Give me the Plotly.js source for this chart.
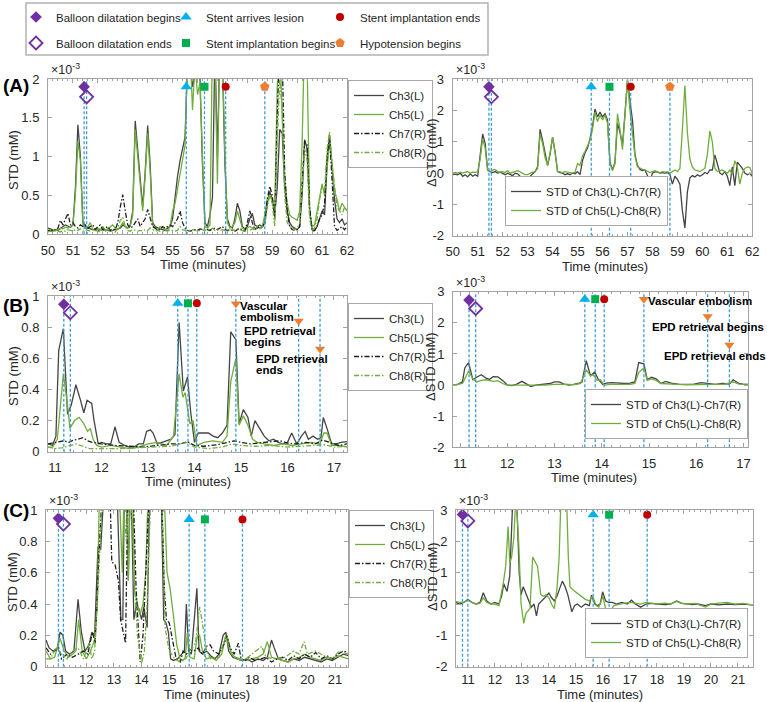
<!DOCTYPE html>
<html>
<head>
<meta charset="utf-8">
<script src="https://cdn.plot.ly/plotly-3.0.1.min.js"></script>
<style>
  html, body { margin: 0; padding: 0; background: #ffffff; }
  #chart { width: 767px; height: 702px; }
</style>
</head>
<body>
<div id="chart"></div>
<script>
// ---------- Panel A: 50-62 min, sampled every 0.1 min (values in 1e-3 mM) ----------
const tA = Array.from({length: 121}, (_, i) => +(50 + i * 0.1).toFixed(1));
const A_ch3 = [0.08,0.07,0.05,0.06,0.05,0.08,0.10,0.12,0.10,0.09,
  0.12,0.60,1.41,1.00,0.15,0.10,0.08,0.07,0.06,0.07,
  0.05,0.06,0.05,0.06,0.05,0.04,0.05,0.06,0.07,0.08,
  0.12,0.10,0.08,0.12,0.30,1.46,1.10,0.70,0.35,0.80,
  1.40,0.90,0.15,0.10,0.08,0.07,0.06,0.05,0.08,0.10,
  0.20,0.50,0.75,0.95,1.10,1.25,2.20,2.30,1.90,2.10,
  2.20,2.00,0.90,0.15,0.10,0.25,0.47,2.40,1.00,2.50,
  2.20,0.90,0.20,0.10,0.08,0.20,0.40,0.30,0.10,0.07,
  0.10,0.20,0.27,0.12,0.10,0.12,0.10,0.15,0.40,0.55,
  0.45,0.25,0.60,1.35,1.30,0.60,0.30,0.15,0.10,0.08,
  0.06,0.10,0.50,1.22,1.10,0.30,0.06,0.05,0.10,0.20,
  0.30,0.25,0.90,1.28,0.80,0.45,0.20,0.15,0.20,0.12,0.15];
const A_ch5 = [0.05,0.06,0.04,0.05,0.06,0.08,0.07,0.09,0.08,0.10,
  0.12,0.50,1.20,0.95,0.12,0.08,0.10,0.15,0.06,0.05,
  0.08,0.06,0.10,0.05,0.07,0.10,0.12,0.08,0.06,0.10,
  0.15,0.10,0.08,0.10,0.25,1.35,1.00,0.60,0.30,0.75,
  1.30,0.80,0.12,0.08,0.06,0.10,0.08,0.06,0.05,0.10,
  0.30,0.40,0.60,0.80,1.00,1.15,2.30,2.40,1.60,2.20,
  1.80,1.95,1.00,0.10,0.08,0.12,2.50,2.30,0.65,2.60,
  2.40,1.00,0.15,0.08,0.10,0.15,0.30,0.20,0.08,0.06,
  0.08,0.10,0.08,0.07,0.10,0.08,0.10,0.25,0.45,0.50,
  0.45,0.30,1.90,2.50,1.50,0.70,0.40,0.25,0.22,0.20,
  0.18,0.30,1.20,2.60,2.20,0.30,0.10,0.12,0.30,0.50,
  0.65,0.50,0.90,1.20,0.90,0.55,0.45,0.30,0.40,0.35,0.30];
const A_ch7 = [0.05,0.04,0.06,0.05,0.08,0.18,0.12,0.20,0.27,0.12,
  0.15,0.10,0.08,0.12,0.10,0.12,0.08,0.10,0.12,0.06,
  0.10,0.12,0.06,0.08,0.10,0.05,0.07,0.06,0.15,0.35,
  0.51,0.30,0.12,0.08,0.10,0.15,0.20,0.10,0.15,0.20,
  0.32,0.20,0.10,0.08,0.05,0.06,0.10,0.08,0.10,0.12,
  0.10,0.15,0.20,0.30,0.15,0.08,0.05,0.04,0.05,0.06,
  0.05,0.07,0.06,0.05,0.06,0.05,0.07,0.08,0.06,0.08,
  0.10,0.06,0.05,0.06,0.05,0.04,0.06,0.08,0.05,0.04,
  0.15,0.30,0.15,0.06,0.08,0.10,0.08,0.15,0.45,0.62,
  0.50,0.20,1.50,2.50,2.30,0.80,0.30,0.10,0.06,0.05,
  0.05,0.10,0.60,1.20,1.15,0.35,0.04,0.05,0.10,0.20,
  0.25,0.40,1.00,1.25,0.70,0.10,0.05,0.08,0.10,0.06,0.10];
const A_ch8 = [0.03,0.04,0.03,0.05,0.04,0.03,0.05,0.04,0.06,0.05,
  0.04,0.06,0.05,0.07,0.04,0.06,0.05,0.04,0.06,0.05,
  0.04,0.03,0.05,0.04,0.06,0.05,0.04,0.03,0.08,0.18,
  0.22,0.10,0.05,0.04,0.06,0.05,0.04,0.05,0.04,0.06,
  0.05,0.08,0.06,0.04,0.05,0.04,0.03,0.05,0.04,0.06,
  0.05,0.04,0.05,0.10,0.06,0.05,0.04,0.05,0.06,0.05,
  0.04,0.05,0.06,0.05,0.07,0.06,0.08,0.05,0.06,0.05,
  0.06,0.05,0.04,0.05,0.06,0.05,0.07,0.06,0.05,0.04,
  0.06,0.05,0.07,0.06,0.08,0.07,0.09,0.12,0.35,0.50,
  0.40,0.10,1.20,2.00,1.60,0.50,0.15,0.10,0.08,0.06,
  0.08,0.15,0.60,1.10,0.95,0.20,0.05,0.08,0.20,0.45,
  0.62,0.55,1.10,1.32,0.90,0.60,0.35,0.30,0.25,0.35,0.30];
const A_d37 = [-0.05,-0.03,-0.05,0.00,-0.10,-0.05,-0.12,-0.02,-0.10,-0.05,
  -0.10,0.50,1.25,0.95,0.10,0.05,0.02,0.05,0.00,0.03,
  -0.02,-0.05,0.00,-0.05,-0.08,0.00,-0.02,-0.10,-0.12,-0.25,
  -0.40,-0.10,-0.02,0.05,0.20,1.40,1.05,0.60,0.25,0.60,
  1.15,0.70,0.05,0.02,0.00,-0.05,-0.02,-0.05,0.00,-0.02,
  0.05,-0.05,0.40,0.65,0.80,1.10,1.50,2.05,1.80,1.95,
  1.80,1.90,1.70,0.35,0.10,0.35,1.60,1.30,0.90,1.90,
  3.00,2.30,1.70,0.60,0.25,0.12,0.08,0.10,-0.05,-0.25,
  0.00,0.05,0.03,0.00,0.02,0.00,0.02,-0.05,-0.35,-0.10,
  -0.20,-0.35,-1.20,-1.75,-0.60,-0.15,-0.08,-0.12,-0.05,-0.10,
  -0.05,0.02,-0.02,0.10,0.10,0.58,0.30,0.00,-0.05,0.05,
  -0.10,-0.40,0.20,-0.40,0.35,0.25,0.15,0.00,-0.05,0.00,-0.10];
const A_d58 = [0.00,0.02,0.00,0.03,0.00,0.02,0.05,0.00,0.03,0.02,
  0.05,0.45,1.10,0.80,0.08,0.05,0.10,0.12,0.05,0.03,
  0.05,0.02,0.08,0.00,0.02,0.06,0.08,0.04,0.00,-0.05,
  -0.05,0.00,0.03,0.05,0.15,1.25,0.95,0.50,0.25,0.65,
  1.15,0.65,0.06,0.04,0.02,0.05,0.04,0.01,0.00,0.03,
  0.30,0.25,0.55,0.70,0.90,1.05,1.40,1.95,1.65,1.85,
  1.70,1.85,1.60,0.30,0.08,0.30,1.90,1.40,0.75,2.00,
  2.95,2.00,1.30,0.55,0.20,0.15,0.12,0.10,0.05,0.02,
  0.05,0.08,0.04,0.02,0.05,0.03,0.05,0.00,0.05,0.10,
  0.05,0.15,1.40,2.80,1.30,0.45,0.20,0.10,0.08,0.05,
  0.10,0.15,0.60,1.35,1.00,0.15,0.05,0.08,0.10,0.05,
  0.00,0.10,-0.05,0.40,0.20,-0.35,0.00,0.15,0.20,0.18,0.00];

// ---------- Panel B: 11-17 min ----------
const B_ch3_t = [10.85,10.95,11.02,11.08,11.18,11.27,11.35,11.45,11.55,11.62,
  11.69,11.79,11.84,11.93,12.0,12.1,12.2,12.29,12.38,12.5,
  12.6,12.7,12.8,12.9,12.97,13.05,13.11,13.2,13.3,13.4,
  13.5,13.58,13.67,13.76,13.85,13.92,14.0,14.08,14.2,14.3,
  14.4,14.5,14.6,14.7,14.78,14.89,14.96,15.05,15.15,15.22,
  15.3,15.4,15.5,15.6,15.7,15.8,15.9,16.0,16.09,16.2,
  16.3,16.38,16.45,16.55,16.65,16.72,16.77,16.85,16.95,17.05,17.15,17.28];
const B_ch3 = [0.05,0.04,0.1,0.65,0.79,0.24,0.3,0.43,0.33,0.25,
  0.33,0.31,0.2,0.05,0.06,0.05,0.05,0.16,0.06,0.04,
  0.03,0.03,0.05,0.05,0.13,0.14,0.12,0.05,0.06,0.07,
  0.08,0.11,0.83,0.39,0.48,0.25,0.06,0.12,0.12,0.12,
  0.1,0.09,0.12,0.17,0.77,0.72,0.18,0.27,0.22,0.1,
  0.2,0.15,0.1,0.07,0.08,0.06,0.05,0.06,0.12,0.05,
  0.1,0.13,0.08,0.1,0.08,0.09,0.22,0.15,0.05,0.05,0.06,0.065];
const B_ch5_t = [10.85,10.95,11.05,11.1,11.18,11.27,11.32,11.42,11.52,11.62,
  11.7,11.76,11.82,11.9,12.0,12.2,12.4,12.6,12.8,13.0,
  13.2,13.4,13.55,13.67,13.75,13.8,13.9,13.97,14.05,14.2,
  14.4,14.6,14.7,14.78,14.89,14.96,15.05,15.15,15.25,15.35,
  15.5,15.7,15.9,16.1,16.3,16.5,16.7,16.78,16.85,16.95,17.1,17.28];
const B_ch5 = [0.03,0.03,0.08,0.25,0.5,0.3,0.15,0.2,0.22,0.18,
  0.13,0.15,0.08,0.04,0.03,0.04,0.03,0.02,0.03,0.05,
  0.06,0.04,0.1,0.5,0.35,0.38,0.18,0.2,0.04,0.06,
  0.07,0.06,0.1,0.45,0.6,0.17,0.23,0.17,0.08,0.06,
  0.05,0.04,0.05,0.04,0.05,0.06,0.05,0.12,0.12,0.04,0.04,0.03];
const B_ch7_t = [10.85,11.0,11.1,11.2,11.3,11.4,11.5,11.6,11.7,11.8,
  12.0,12.3,12.6,12.9,13.2,13.5,13.7,13.85,14.0,14.2,
  14.5,14.7,14.85,15.0,15.2,15.5,15.7,15.85,16.0,16.2,
  16.4,16.6,16.75,16.9,17.1,17.28];
const B_ch7 = [0.05,0.06,0.065,0.07,0.06,0.075,0.08,0.09,0.07,0.06,
  0.05,0.04,0.035,0.03,0.04,0.05,0.05,0.065,0.04,0.035,
  0.045,0.06,0.07,0.06,0.05,0.06,0.065,0.07,0.055,0.05,
  0.06,0.05,0.075,0.06,0.04,0.05];
const B_ch8_t = [10.85,11.0,11.15,11.3,11.45,11.6,11.75,12.0,12.4,12.8,
  13.2,13.5,13.7,13.85,14.0,14.3,14.6,14.8,15.0,15.3,
  15.6,16.0,16.3,16.6,16.8,17.0,17.28];
const B_ch8 = [0.03,0.02,0.025,0.04,0.05,0.035,0.02,0.02,0.02,0.025,
  0.03,0.035,0.05,0.06,0.03,0.02,0.03,0.05,0.04,0.035,
  0.04,0.03,0.035,0.04,0.045,0.03,0.035];
const B_d37_t = [10.85,10.95,11.05,11.1,11.18,11.27,11.35,11.45,11.55,11.62,
  11.7,11.8,11.9,12.0,12.1,12.2,12.31,12.4,12.5,12.6,
  12.7,12.8,12.9,13.0,13.1,13.2,13.3,13.4,13.5,13.58,
  13.67,13.76,13.85,13.92,14.02,14.1,14.2,14.3,14.4,14.5,
  14.6,14.7,14.78,14.89,14.96,15.05,15.15,15.25,15.35,15.5,
  15.65,15.8,15.95,16.1,16.25,16.4,16.55,16.7,16.78,16.9,17.0,17.1];
const B_d37 = [0.0,0.02,0.1,0.55,0.72,0.17,0.25,0.33,0.22,0.18,
  0.27,0.26,0.15,0.0,-0.02,0.03,0.12,0.05,-0.05,0.0,
  0.02,0.03,0.05,0.1,0.1,0.03,0.0,0.02,0.05,0.1,
  0.78,0.3,0.42,0.2,0.02,0.06,0.08,0.07,0.05,0.05,
  0.06,0.1,0.72,0.68,0.18,0.25,0.2,0.05,0.12,0.05,
  0.02,0.02,0.03,0.08,0.05,0.02,0.05,0.03,0.17,0.05,0.02,0.02];
const B_d58_t = [10.85,10.95,11.05,11.1,11.18,11.27,11.35,11.45,11.55,11.7,
  11.8,11.9,12.0,12.2,12.4,12.6,12.8,13.0,13.2,13.4,
  13.55,13.67,13.76,13.82,13.9,13.97,14.05,14.2,14.4,14.6,
  14.7,14.78,14.89,14.96,15.05,15.15,15.25,15.4,15.6,15.8,
  16.0,16.2,16.4,16.6,16.78,16.9,17.1];
const B_d58 = [0.0,0.02,0.05,0.2,0.45,0.2,0.1,0.15,0.17,0.12,
  0.14,0.05,0.0,0.0,0.0,-0.02,0.0,0.02,0.03,0.01,
  0.05,0.48,0.3,0.33,0.15,0.17,0.0,0.02,0.03,0.02,
  0.05,0.4,0.55,0.15,0.2,0.15,0.05,0.03,0.02,0.01,
  0.02,0.01,0.02,0.03,0.1,0.03,0.02];

// ---------- Panel C: 11-21 min ----------
const C_ch3_t = [10.54,10.65,10.8,10.95,11.05,11.15,11.25,11.4,11.55,11.7,
  11.82,11.95,12.1,12.2,12.3,12.42,12.52,12.62,12.75,12.9,
  13.0,13.1,13.16,13.25,13.32,13.38,13.45,13.52,13.58,13.65,
  13.72,13.8,13.9,14.0,14.08,14.2,14.3,14.4,14.55,14.7,
  14.8,14.88,14.97,15.05,15.15,15.3,15.45,15.55,15.62,15.7,
  15.8,15.9,16.0,16.08,16.2,16.35,16.5,16.65,16.8,16.95,
  17.05,17.15,17.3,17.45,17.6,17.8,18.0,18.2,18.4,18.55,
  18.7,18.8,18.95,19.1,19.3,19.5,19.7,19.9,20.1,20.3,
  20.5,20.7,20.9,21.1,21.3,21.48];
const C_ch3 = [0.17,0.12,0.1,0.12,0.22,0.2,0.1,0.08,0.1,0.43,
  0.22,0.1,0.14,0.22,0.2,0.76,0.75,1.2,1.5,1.3,
  1.1,1.2,0.85,0.3,0.3,1.2,1.1,0.55,1.2,0.9,
  0.3,0.38,0.37,0.3,0.38,0.25,1.2,1.5,1.4,1.2,
  0.3,0.28,0.22,0.05,0.04,0.05,0.08,0.1,0.4,0.1,
  0.08,0.3,0.5,0.1,0.08,0.1,0.07,0.05,0.08,0.2,
  0.22,0.1,0.06,0.05,0.04,0.05,0.03,0.05,0.04,0.06,
  0.17,0.12,0.05,0.04,0.03,0.05,0.04,0.06,0.05,0.04,
  0.03,0.05,0.04,0.06,0.08,0.07];
const C_ch5_t = [10.54,10.7,10.85,11.05,11.2,11.35,11.5,11.62,11.72,11.85,
  12.0,12.15,12.3,12.4,12.47,12.6,12.75,12.9,13.05,13.2,
  13.3,13.37,13.45,13.52,13.6,13.68,13.75,13.85,13.94,14.05,
  14.15,14.25,14.4,14.6,14.8,14.92,15.03,15.15,15.27,15.39,
  15.5,15.58,15.66,15.75,15.9,16.02,16.1,16.2,16.35,16.5,
  16.7,16.9,17.05,17.12,17.25,17.4,17.6,17.8,18.0,18.2,
  18.4,18.55,18.7,18.9,19.1,19.3,19.5,19.7,19.9,20.1,
  20.3,20.5,20.7,20.9,21.1,21.3,21.48];
const C_ch5 = [0.1,0.05,0.06,0.18,0.1,0.06,0.08,0.1,0.3,0.1,
  0.05,0.1,0.17,0.4,1.1,1.4,1.5,1.3,1.2,1.1,
  0.6,1.2,1.1,0.55,1.2,1.1,0.48,0.4,0.33,0.4,
  0.6,1.2,1.5,1.4,1.2,0.6,0.5,0.33,0.14,0.05,
  0.04,0.06,0.22,0.06,0.05,0.2,0.2,0.1,0.05,0.06,
  0.04,0.08,0.2,0.18,0.08,0.06,0.05,0.04,0.05,0.06,
  0.08,0.16,0.06,0.05,0.04,0.03,0.05,0.06,0.08,0.06,
  0.05,0.04,0.06,0.05,0.07,0.06,0.05];
const C_ch7_t = [10.54,10.7,10.85,11.0,11.1,11.3,11.5,11.7,11.9,12.05,
  12.22,12.32,12.45,12.6,12.8,12.92,13.04,13.16,13.24,13.42,
  13.5,13.6,13.7,13.8,13.95,14.05,14.15,14.3,14.5,14.7,
  14.82,14.9,15.0,15.1,15.25,15.4,15.5,15.62,15.75,15.9,
  16.05,16.2,16.35,16.48,16.6,16.8,17.0,17.08,17.2,17.35,
  17.5,17.6,17.75,17.9,18.1,18.3,18.5,18.7,18.9,19.1,
  19.3,19.5,19.7,19.9,20.1,20.3,20.5,20.7,20.9,21.1,21.3,21.48];
const C_ch7 = [0.12,0.08,0.1,0.12,0.05,0.08,0.06,0.08,0.1,0.08,
  0.22,0.15,0.7,1.2,1.5,0.67,0.65,0.55,0.3,0.15,
  1.1,1.3,1.1,0.5,0.03,0.2,0.6,1.2,1.4,1.3,
  0.5,0.3,0.28,0.18,0.05,0.03,0.1,0.08,0.11,0.1,
  0.12,0.08,0.13,0.14,0.1,0.08,0.15,0.2,0.12,0.08,
  0.15,0.05,0.04,0.06,0.04,0.05,0.06,0.03,0.05,0.06,
  0.04,0.07,0.05,0.08,0.06,0.09,0.05,0.07,0.05,0.08,0.1,0.09];
const C_ch8_t = [10.54,10.7,10.9,11.1,11.3,11.5,11.7,11.9,12.1,12.2,
  12.3,12.45,12.6,12.8,13.0,13.2,13.3,13.45,13.6,13.75,
  13.85,14.0,14.1,14.2,14.35,14.5,14.7,14.85,15.0,15.2,
  15.4,15.6,15.75,15.95,16.1,16.2,16.35,16.5,16.8,17.05,
  17.2,17.4,17.7,18.0,18.35,18.5,18.8,19.2,19.5,19.7,
  19.88,20.0,20.3,20.6,20.9,21.15,21.48];
const C_ch8 = [0.05,0.05,0.12,0.08,0.05,0.1,0.12,0.05,0.15,0.05,
  0.1,0.6,1.2,1.5,1.3,1.2,1.1,0.8,1.2,0.5,
  0.2,0.02,0.1,0.4,1.2,1.5,1.3,0.25,0.1,0.05,
  0.03,0.05,0.1,0.15,0.38,0.28,0.1,0.05,0.06,0.2,
  0.1,0.05,0.04,0.08,0.13,0.06,0.05,0.06,0.1,0.08,
  0.16,0.08,0.1,0.07,0.05,0.1,0.08];
const C_d37_t = [10.56,10.7,10.85,11.0,11.15,11.3,11.45,11.57,11.7,11.85,
  12.0,12.15,12.25,12.33,12.45,12.55,12.67,12.8,12.9,12.97,
  13.05,13.15,13.25,13.35,13.45,13.54,13.62,13.75,13.85,14.0,
  14.1,14.2,14.3,14.4,14.5,14.6,14.7,14.85,14.95,15.05,
  15.2,15.35,15.5,15.58,15.7,15.8,15.9,15.99,16.1,16.2,
  16.35,16.5,16.7,16.9,17.06,17.2,17.4,17.6,17.8,18.0,
  18.3,18.5,18.73,18.9,19.1,19.3,19.5,19.8,20.0,20.3,
  20.6,20.9,21.2,21.57];
const C_d37 = [0.05,0.0,0.05,0.15,0.05,0.0,0.05,0.36,0.1,0.0,
  0.05,0.0,0.25,0.65,0.4,0.9,3.5,3.5,1.0,0.3,
  0.55,0.35,0.15,-0.1,0.0,-0.38,0.0,0.1,0.2,0.35,
  0.2,0.1,0.25,0.5,0.73,0.55,0.3,-0.25,-0.05,0.0,
  -0.1,0.0,-0.05,0.28,0.0,-0.05,0.0,0.39,0.1,0.05,
  0.05,0.0,0.05,0.0,0.12,0.0,-0.1,0.0,0.02,0.0,
  -0.02,0.0,0.1,0.03,0.0,-0.02,0.0,-0.05,0.0,-0.03,
  0.0,-0.02,0.0,-0.03];
const C_d58_t = [10.56,10.7,10.85,11.0,11.15,11.3,11.45,11.57,11.7,11.85,
  12.0,12.15,12.3,12.4,12.49,12.55,12.62,12.7,12.78,12.88,
  12.97,13.07,13.15,13.3,13.4,13.5,13.58,13.7,13.8,13.9,
  14.0,14.1,14.2,14.3,14.38,14.45,14.55,14.65,14.72,14.78,
  14.9,15.05,15.2,15.35,15.5,15.62,15.75,15.85,16.0,16.1,
  16.2,16.3,16.4,16.6,16.8,17.0,17.2,17.4,17.6,17.8,
  18.0,18.3,18.5,18.73,18.9,19.1,19.4,19.8,20.0,20.3,
  20.6,20.9,21.2,21.57];
const C_d58 = [0.08,0.05,0.05,0.12,0.05,0.0,0.02,0.2,0.05,0.0,
  0.0,-0.05,0.6,1.2,2.47,1.3,1.5,2.1,3.5,2.0,
  0.0,-0.62,-0.3,-0.15,1.5,1.3,1.2,0.3,0.25,0.3,
  0.2,0.0,-0.15,0.5,1.5,3.5,3.5,3.5,1.5,0.55,
  0.45,0.35,0.25,0.15,0.1,0.25,-0.05,-0.1,0.25,-0.15,
  -0.2,-0.2,-0.05,0.0,0.03,0.05,0.02,0.0,0.05,0.02,
  0.0,0.03,0.0,0.08,0.02,0.0,0.02,-0.1,0.0,0.03,
  0.05,0.0,0.02,-0.05];

// ---------- Procedure events ----------
const evNames = {
  balloonBegin: 'Balloon dilatation begins',
  balloonEnd: 'Balloon dilatation ends',
  stentArrive: 'Stent arrives lesion',
  implBegin: 'Stent implantation begins',
  implEnd: 'Stent implantation ends',
  hypo: 'Hypotension begins'
};
const evKindsA = ['balloonBegin','balloonEnd','stentArrive','implBegin','implEnd','hypo'];
const evTimeA = [51.45, 51.55, 55.55, 56.28, 57.13, 58.7];
const evYA_std = [1.9, 1.77, 1.9, 1.9, 1.9, 1.9];
const evYA_diff = [2.76, 2.44, 2.76, 2.76, 2.76, 2.76];
const evKindsB = ['balloonBegin','balloonEnd','stentArrive','implBegin','implEnd','embol','embol','embol'];
const evTimeB = [11.19, 11.33, 13.64, 13.86, 14.05, 14.89, 16.24, 16.7];
const evYB_std = [0.947, 0.893, 0.953, 0.953, 0.953, 0.95, 0.84, 0.66];
const evYB_diff = [2.73, 2.46, 2.76, 2.76, 2.76, 2.76, 2.2, 1.29];
const evKindsC = ['balloonBegin','balloonEnd','stentArrive','implBegin','implEnd'];
const evTimeC_std = [10.99, 11.17, 15.72, 16.29, 17.65];
const evTimeC_diff = [10.8, 11.0, 15.64, 16.23, 17.64];
const evYC_std = [0.947, 0.91, 0.94, 0.94, 0.94];
const evYC_diff = [2.86, 2.65, 2.85, 2.85, 2.85];

// axis extents
const xRangeA = [50, 62], xRangeB_std = [10.85, 17.28], xRangeB_diff = [10.85, 17.1];
const xRangeC_std = [10.54, 21.48], xRangeC_diff = [10.56, 21.57];
const yRangeA_std = [0, 2], yRangeBC_std = [0, 1], yRange_diff = [-2, 3];
const diffTicks = [-2, -1, 0, 1, 2, 3];
const diffTickText = ['-2', '-1', '0', '1', '2', '3'];

// ---------- styling ----------
const W = 767, H = 702;
const AXC = '#a3a3a3';
const TXT = '#262626';
const GREEN = '#70ad3c';
const GRAY = '#444444';
const BLACK = '#1e1e1e';
const EVT_LINE = '#3d9bd8';
const SANS = 'Liberation Sans, Arial, Helvetica, sans-serif';
const DASHDOT = '5px,2px,1.5px,2px';

const markerStyle = {
  balloonBegin: {symbol: 'diamond', color: '#7030A0', size: 9, line: {width: 0}},
  balloonEnd: {symbol: 'diamond-open', color: '#7030A0', size: 10, line: {width: 1.8, color: '#7030A0'}},
  stentArrive: {symbol: 'triangle-up', color: '#00B0F0', size: 10, line: {width: 0}},
  implBegin: {symbol: 'square', color: '#00B050', size: 8, line: {width: 0}},
  implEnd: {symbol: 'circle', color: '#C00000', size: 8, line: {width: 0}},
  hypo: {symbol: 'pentagon', color: '#ED7D31', size: 10, line: {width: 0}},
  embol: {symbol: 'triangle-down', color: '#ED7D31', size: 9, line: {width: 0}}
};
// one single-entry legend per event key, laid out as a 3 x 2 grid
const eventLegendId = {
  balloonBegin: 'legend7', stentArrive: 'legend8', implEnd: 'legend9',
  balloonEnd: 'legend10', implBegin: 'legend11', hypo: 'legend12'
};

const hx = (a, b) => [a / W, b / W];
const vy = (top, bottom) => [1 - bottom / H, 1 - top / H];

const traces = [];

function series(x, y, color, dash, name, xa, ya, legend) {
  traces.push({
    type: 'scatter', mode: 'lines', x: x, y: y, name: name,
    xaxis: xa, yaxis: ya, legend: legend, showlegend: !!name,
    line: {color: color, width: 1.3, dash: dash},
    hoverinfo: 'skip'
  });
}

function events(times, ys, kinds, yRange, xa, ya, withLegend) {
  times.forEach((t) => {
    traces.push({
      type: 'scatter', mode: 'lines', x: [t, t], y: yRange,
      xaxis: xa, yaxis: ya, showlegend: false, hoverinfo: 'skip',
      line: {color: EVT_LINE, width: 1.3, dash: '3px,2px'}
    });
  });
  times.forEach((t, i) => {
    const k = kinds[i];
    const tr = {
      type: 'scatter', mode: 'markers', x: [t], y: [ys[i]],
      xaxis: xa, yaxis: ya, hoverinfo: 'skip', showlegend: false,
      marker: markerStyle[k], cliponaxis: false
    };
    if (withLegend && evNames[k]) {
      tr.showlegend = true;
      tr.name = evNames[k];
      tr.legend = eventLegendId[k];
    }
    traces.push(tr);
  });
}

// Panel A
series(tA, A_ch3, GRAY, 'solid', 'Ch3(L)', 'x', 'y', 'legend');
series(tA, A_ch5, GREEN, 'solid', 'Ch5(L)', 'x', 'y', 'legend');
series(tA, A_ch7, BLACK, DASHDOT, 'Ch7(R)', 'x', 'y', 'legend');
series(tA, A_ch8, GREEN, DASHDOT, 'Ch8(R)', 'x', 'y', 'legend');
events(evTimeA, evYA_std, evKindsA, yRangeA_std, 'x', 'y', true);
series(tA, A_d37, GRAY, 'solid', 'STD of Ch3(L)-Ch7(R)', 'x2', 'y2', 'legend2');
series(tA, A_d58, GREEN, 'solid', 'STD of Ch5(L)-Ch8(R)', 'x2', 'y2', 'legend2');
events(evTimeA, evYA_diff, evKindsA, yRange_diff, 'x2', 'y2', false);

// Panel B
series(B_ch3_t, B_ch3, GRAY, 'solid', 'Ch3(L)', 'x3', 'y3', 'legend3');
series(B_ch5_t, B_ch5, GREEN, 'solid', 'Ch5(L)', 'x3', 'y3', 'legend3');
series(B_ch7_t, B_ch7, BLACK, DASHDOT, 'Ch7(R)', 'x3', 'y3', 'legend3');
series(B_ch8_t, B_ch8, GREEN, DASHDOT, 'Ch8(R)', 'x3', 'y3', 'legend3');
events(evTimeB, evYB_std, evKindsB, yRangeBC_std, 'x3', 'y3', false);
series(B_d37_t, B_d37, GRAY, 'solid', 'STD of Ch3(L)-Ch7(R)', 'x4', 'y4', 'legend4');
series(B_d58_t, B_d58, GREEN, 'solid', 'STD of Ch5(L)-Ch8(R)', 'x4', 'y4', 'legend4');
events(evTimeB, evYB_diff, evKindsB, yRange_diff, 'x4', 'y4', false);

// Panel C
series(C_ch3_t, C_ch3, GRAY, 'solid', 'Ch3(L)', 'x5', 'y5', 'legend5');
series(C_ch5_t, C_ch5, GREEN, 'solid', 'Ch5(L)', 'x5', 'y5', 'legend5');
series(C_ch7_t, C_ch7, BLACK, DASHDOT, 'Ch7(R)', 'x5', 'y5', 'legend5');
series(C_ch8_t, C_ch8, GREEN, DASHDOT, 'Ch8(R)', 'x5', 'y5', 'legend5');
events(evTimeC_std, evYC_std, evKindsC, yRangeBC_std, 'x5', 'y5', false);
series(C_d37_t, C_d37, GRAY, 'solid', 'STD of Ch3(L)-Ch7(R)', 'x6', 'y6', 'legend6');
series(C_d58_t, C_d58, GREEN, 'solid', 'STD of Ch5(L)-Ch8(R)', 'x6', 'y6', 'legend6');
events(evTimeC_diff, evYC_diff, evKindsC, yRange_diff, 'x6', 'y6', false);

// ---------- axes ----------
const tickFont = {family: SANS, size: 13, color: TXT};
function xAxis(domain, range, anchor, standoff) {
  return {
    domain: domain, range: range, anchor: anchor,
    showline: true, linecolor: AXC, linewidth: 1, mirror: 'ticks',
    ticks: 'inside', ticklen: 4, tickcolor: AXC, tickwidth: 1,
    dtick: 1, tick0: 0, showgrid: false, zeroline: false,
    tickfont: tickFont, ticklabelstandoff: standoff,
    minor: {ticks: 'inside', ticklen: 2, dtick: 0.2, tickcolor: AXC, showgrid: false}
  };
}
function yAxis(domain, range, anchor, extra) {
  return Object.assign({
    domain: domain, range: range, anchor: anchor,
    showline: true, linecolor: AXC, linewidth: 1, mirror: 'ticks',
    ticks: 'inside', ticklen: 4, tickcolor: AXC, tickwidth: 1,
    showgrid: false, zeroline: false,
    tickfont: tickFont, ticklabelstandoff: 5
  }, extra);
}
const diffExtra = {tickmode: 'array', tickvals: diffTicks, ticktext: diffTickText};

const dA1x = hx(48, 347), dA1y = vy(79, 234.3);
const dA2x = hx(452.7, 752.3), dA2y = vy(79.3, 235.7);
const dB1x = hx(48, 347), dB1y = vy(296, 451.7);
const dB2x = hx(453, 748.3), dB2y = vy(291.7, 447.3);
const dC1x = hx(46, 348.3), dC1y = vy(510, 666.7);
const dC2x = hx(456, 753.3), dC2y = vy(510, 666.7);

function stdLegend(xpx, ypx) {
  return {
    x: xpx / W, y: 1 - ypx / H, xanchor: 'left', yanchor: 'top',
    bgcolor: '#ffffff', bordercolor: '#a8a8a8', borderwidth: 1,
    font: {family: SANS, size: 11.5, color: TXT}, tracegroupgap: 0
  };
}
function diffLegend(xpx, ypx, xanchor) {
  return {
    x: xpx / W, y: 1 - ypx / H, xanchor: xanchor, yanchor: 'bottom',
    bgcolor: '#ffffff', bordercolor: '#a8a8a8', borderwidth: 1,
    font: {family: SANS, size: 11.5, color: TXT}, tracegroupgap: 0
  };
}
function eventLegend(xpx, ypx) {
  return {
    x: xpx / W, y: 1 - ypx / H, xanchor: 'left', yanchor: 'middle',
    bgcolor: 'rgba(0,0,0,0)', borderwidth: 0,
    font: {family: SANS, size: 11.5, color: TXT}
  };
}

// ---------- annotations ----------
const annotations = [];
function panelLabel(txt, ypx) {
  annotations.push({
    text: txt, xref: 'paper', yref: 'paper', x: 1 / W, y: 1 - ypx / H,
    xanchor: 'left', yanchor: 'middle', showarrow: false,
    font: {family: SANS, size: 19, color: '#000000'}
  });
}
panelLabel('<b>(A)</b>', 86);
panelLabel('<b>(B)</b>', 305);
panelLabel('<b>(C)</b>', 510);

function expLabel(xdom, ydom) {
  annotations.push({
    text: '×10<sup>-3</sup>', xref: 'paper', yref: 'paper',
    x: xdom[0] + 1 / W, y: ydom[1], xanchor: 'left', yanchor: 'bottom',
    showarrow: false, font: {family: SANS, size: 12.5, color: TXT}
  });
}
expLabel(dA1x, dA1y); expLabel(dA2x, dA2y);
expLabel(dB1x, dB1y); expLabel(dB2x, dB2y);
expLabel(dC1x, dC1y); expLabel(dC2x, dC2y);

// axis titles, placed beside each panel
function axisTitle(txt, xpx, ypx, vertical) {
  annotations.push({
    text: txt, xref: 'paper', yref: 'paper', x: xpx / W, y: 1 - ypx / H,
    xanchor: 'center', yanchor: 'middle', showarrow: false,
    textangle: vertical ? -90 : 0, borderpad: 0,
    font: {family: SANS, size: 13, color: TXT}
  });
}
axisTitle('Time (minutes)', 203, 265, false);
axisTitle('Time (minutes)', 605, 266, false);
axisTitle('Time (minutes)', 188, 481, false);
axisTitle('Time (minutes)', 594, 477, false);
axisTitle('Time (minutes)', 207, 694.5, false);
axisTitle('Time (minutes)', 600, 694.5, false);
axisTitle('STD (mM)', 13, 160, true);
axisTitle('ΔSTD (mM)', 431, 153, true);
axisTitle('STD (mM)', 13, 376, true);
axisTitle('ΔSTD (mM)', 431, 367, true);
axisTitle('STD (mM)', 12, 582, true);
axisTitle('ΔSTD (mM)', 432, 577, true);

function eventText(txt, xa, ya, x, y, dx, dy) {
  annotations.push({
    text: '<b>' + txt + '</b>', xref: xa, yref: ya, x: x, y: y,
    xanchor: 'left', yanchor: 'middle', xshift: dx, yshift: dy,
    showarrow: false, borderpad: 0,
    font: {family: SANS, size: 11.5, color: '#000000'}
  });
}
// left panel B (two-line labels)
eventText('Vascular', 'x3', 'y3', evTimeB[5], evYB_std[5], 3, -2);
eventText('embolism', 'x3', 'y3', evTimeB[5], evYB_std[5], 3, -13.5);
eventText('EPD retrieval', 'x3', 'y3', evTimeB[6], evYB_std[6], -56, -10);
eventText('begins', 'x3', 'y3', evTimeB[6], evYB_std[6], -56, -21.5);
eventText('EPD retrieval', 'x3', 'y3', evTimeB[7], evYB_std[7], -65, -10);
eventText('ends', 'x3', 'y3', evTimeB[7], evYB_std[7], -65, -21);
// right panel B
eventText('Vascular embolism', 'x4', 'y4', evTimeB[5], evYB_diff[5], 3, -2);
eventText('EPD retrieval begins', 'x4', 'y4', evTimeB[6], evYB_diff[6], -57, -10);
eventText('EPD retrieval ends', 'x4', 'y4', evTimeB[7], evYB_diff[7], -66, -11);

const layout = {
  width: W, height: H, autosize: false,
  margin: {l: 0, r: 0, t: 0, b: 0},
  paper_bgcolor: '#ffffff', plot_bgcolor: '#ffffff',
  font: {family: SANS, color: TXT},
  xaxis: xAxis(dA1x, xRangeA, 'y', 4),
  yaxis: yAxis(dA1y, yRangeA_std, 'x', {dtick: 0.5, tick0: 0}),
  xaxis2: xAxis(dA2x, xRangeA, 'y2', 4),
  yaxis2: yAxis(dA2y, yRange_diff, 'x2', diffExtra),
  xaxis3: xAxis(dB1x, xRangeB_std, 'y3', 4),
  yaxis3: yAxis(dB1y, yRangeBC_std, 'x3', {dtick: 0.2, tick0: 0}),
  xaxis4: xAxis(dB2x, xRangeB_diff, 'y4', 4),
  yaxis4: yAxis(dB2y, yRange_diff, 'x4', diffExtra),
  xaxis5: xAxis(dC1x, xRangeC_std, 'y5', 1),
  yaxis5: yAxis(dC1y, yRangeBC_std, 'x5', {dtick: 0.2, tick0: 0}),
  xaxis6: xAxis(dC2x, xRangeC_diff, 'y6', 1),
  yaxis6: yAxis(dC2y, yRange_diff, 'x6', diffExtra),
  legend: stdLegend(348, 80),
  legend2: diffLegend(505, 226, 'left'),
  legend3: stdLegend(348, 303),
  legend4: diffLegend(748, 439, 'right'),
  legend5: stdLegend(349, 510),
  legend6: diffLegend(748, 658, 'right'),
  legend7: eventLegend(16, 17),
  legend8: eventLegend(166, 17),
  legend9: eventLegend(320, 17),
  legend10: eventLegend(16, 43),
  legend11: eventLegend(166, 43),
  legend12: eventLegend(320, 43),
  shapes: [{
    type: 'rect', xref: 'paper', yref: 'paper',
    x0: 26 / W, x1: 488 / W, y0: 1 - 55 / H, y1: 1 - 3 / H,
    line: {color: '#b3b3b3', width: 1.5}, fillcolor: 'rgba(0,0,0,0)', layer: 'below'
  }],
  annotations: annotations,
  showlegend: true
};

Plotly.newPlot('chart', traces, layout, {displayModeBar: false, staticPlot: true});
</script>
</body>
</html>
